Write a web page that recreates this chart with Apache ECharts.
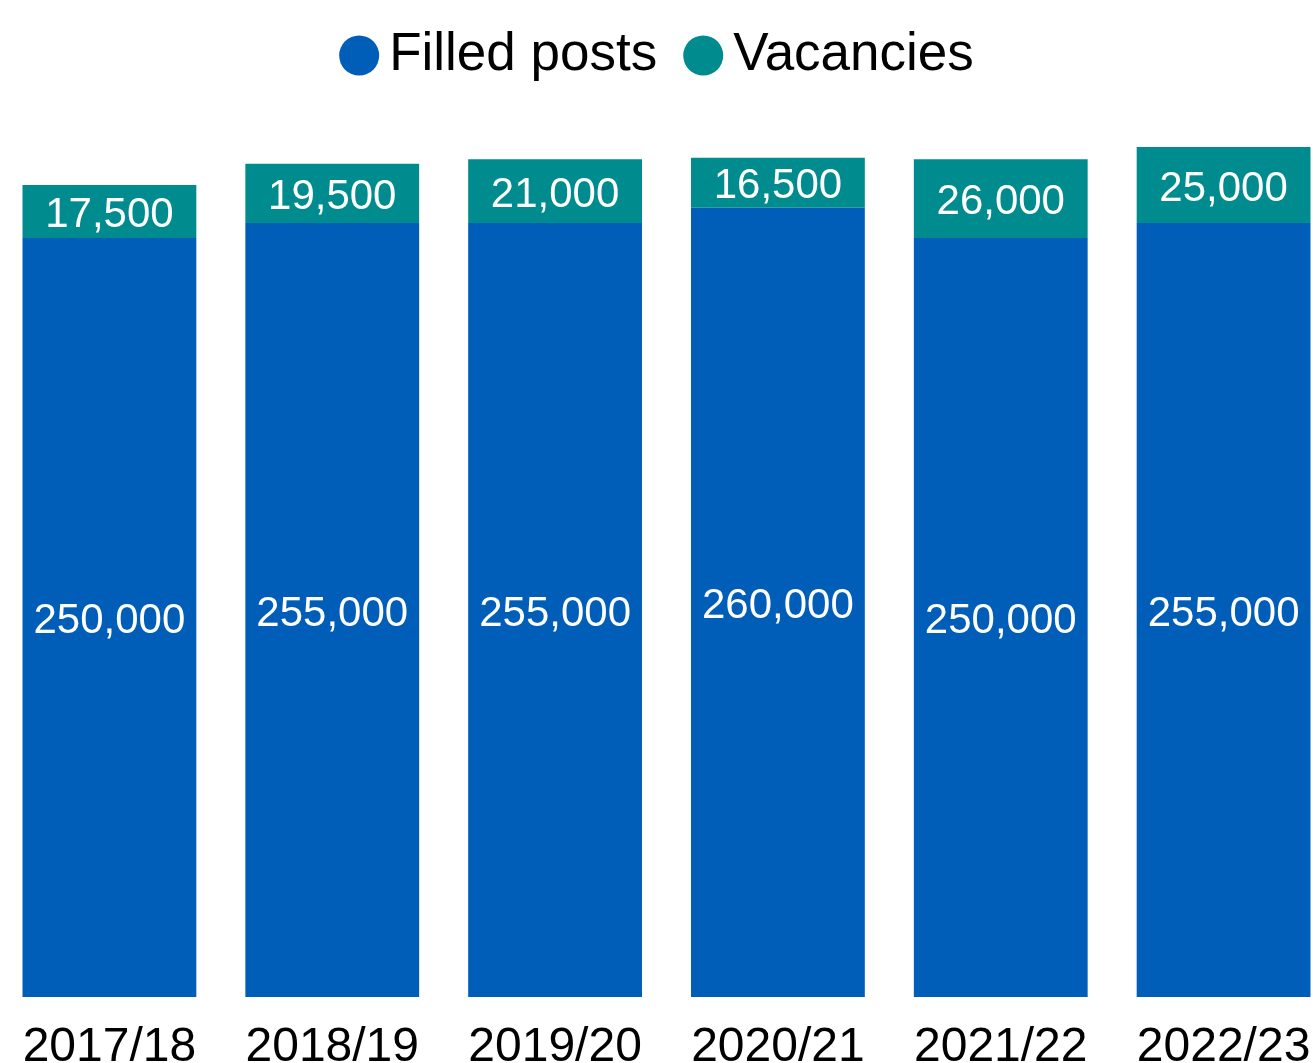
<!DOCTYPE html>
<html>
<head>
<meta charset="utf-8">
<script src="https://cdn.jsdelivr.net/npm/echarts@6/dist/echarts.min.js"></script>
<style>
html,body{margin:0;padding:0;background:#fff;}
#chart{width:1313px;height:1063px;}
</style>
</head>
<body>
<div id="chart"></div>
<script>
const categories = ['2017/18', '2018/19', '2019/20', '2020/21', '2021/22', '2022/23'];
const filledPosts = [250000, 255000, 255000, 260000, 250000, 255000];
const vacancies = [17500, 19500, 21000, 16500, 26000, 25000];
const seriesNames = ['Filled posts', 'Vacancies'];

const FONT = '"Liberation Sans", Arial, sans-serif';
const fmt = v => v.toLocaleString('en-GB');

const chart = echarts.init(document.getElementById('chart'), null, {renderer: 'canvas'});
chart.setOption({
  animation: false,
  legend: {
    top: 24,
    left: 'center',
    icon: 'circle',
    itemWidth: 40,
    itemHeight: 40,
    itemGap: 26,
    textStyle: {fontFamily: FONT, fontSize: 53, color: '#000', padding: [0, 0, 0, 5]},
    data: seriesNames
  },
  grid: {left: -2, right: -22, top: 147, bottom: 66, containLabel: false, outerBoundsMode: 'none'},
  xAxis: {
    type: 'category',
    data: categories,
    axisLine: {show: false},
    axisTick: {show: false},
    axisLabel: {fontFamily: FONT, fontSize: 48, color: '#000', margin: 27, interval: 0}
  },
  yAxis: {
    type: 'value',
    min: 0,
    max: 280000,
    show: false,
    splitLine: {show: false}
  },
  series: [
    {
      name: seriesNames[0],
      type: 'bar',
      stack: 'total',
      data: filledPosts,
      barCategoryGap: '22%',
      itemStyle: {color: '#005EB8'},
      label: {show: true, position: 'inside', offset: [0, 4], color: '#fff', fontFamily: FONT, fontSize: 42,
        formatter: p => fmt(p.value)}
    },
    {
      name: seriesNames[1],
      type: 'bar',
      stack: 'total',
      data: vacancies,
      barCategoryGap: '22%',
      itemStyle: {color: '#008C8F'},
      label: {show: true, position: 'inside', offset: [0, 4], color: '#fff', fontFamily: FONT, fontSize: 42,
        formatter: p => fmt(p.value)}
    }
  ]
});
</script>
</body>
</html>
